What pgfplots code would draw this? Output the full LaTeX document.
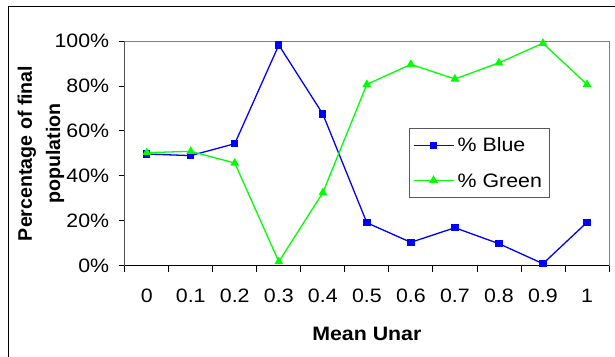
\documentclass[border=0pt]{standalone}
\usepackage{fontspec}
\setmainfont{Liberation Sans}[FakeStretch=1.1]
\newfontfamily\ylabfont{Liberation Sans}
\usepackage{pgfplots}
\pgfplotsset{compat=1.18}
\definecolor{xlblue}{RGB}{0,0,255}
\definecolor{xlgreen}{RGB}{0,255,0}
\begin{document}
\begin{tikzpicture}
\path[use as bounding box] (0pt,0pt) rectangle (615pt,-356pt);
\draw[black, line width=1pt] (8.6pt,-6pt) rectangle (640pt,-380pt);
\begin{axis}[
  at={(124.7pt,-265.7pt)}, anchor=south west,
  width=484.3pt, height=224.7pt, scale only axis,
  xmin=-0.5, xmax=10.5, ymin=0, ymax=100,
  axis line style={draw=gray, line width=0.8pt},
  /pgf/number format/assume math mode=true,
  tick align=outside, tick pos=left,
  xtick={0,1,2,3,4,5,6,7,8,9,10},
  xticklabels={0,0.1,0.2,0.3,0.4,0.5,0.6,0.7,0.8,0.9,1},
  major x tick style={draw=none},
  minor xtick={-0.5,0.5,1.5,2.5,3.5,4.5,5.5,6.5,7.5,8.5,9.5,10.5},
  minor tick length=6pt, major tick length=6pt,
  every tick/.style={black, line width=0.8pt},
  minor x tick style={black, line width=0.8pt},
  ytick={0,20,40,60,80,100},
  yticklabels={0\%,20\%,40\%,60\%,80\%,100\%},
  tick label style={font=\fontsize{19.4}{22}\selectfont},
  xticklabel style={yshift=-14pt},
  yticklabel style={xshift=-6pt},
  xlabel={Mean Unar},
  ylabel={Percentage of final\\population},
  every axis x label/.style={at={(axis description cs:0.5,-0.304)}, anchor=center, font=\bfseries\fontsize{19.4}{22}\selectfont},
  every axis y label/.style={at={(axis description cs:-0.1728,0.5)}, anchor=center, rotate=90, align=center, font=\ylabfont\bfseries\fontsize{19.6}{28.3}\selectfont},
  legend style={at={(axis description cs:0.587,0.613)}, anchor=north west, draw=gray!70!black, line width=0.8pt,
    font=\fontsize{19.4}{22}\selectfont, inner xsep=3.5pt, inner ysep=10pt, row sep=21.5pt,
    nodes={inner ysep=0pt, inner xsep=3.5pt, text height=13.6pt, text depth=0pt}},
  legend cell align=left,
  legend image code/.code={\draw[mark repeat=2,mark phase=2,#1] plot coordinates {(0pt,0pt) (20pt,0pt) (40pt,0pt)};},
]
\draw[black, line width=0.8pt] (rel axis cs:0,1) -- (rel axis cs:0,0) -- (rel axis cs:1,0);
\addplot[color=xlblue, line width=1.3pt, mark=square*, mark size=3pt, mark options={solid}] coordinates {
(0,49.7) (1,49.0) (2,54.3) (3,98.2) (4,67.5) (5,19.1) (6,10.4) (7,16.9) (8,9.8) (9,0.9) (10,19.3)};
\addlegendentry{\% Blue}
\addplot[color=xlgreen, line width=1.3pt, mark=triangle*, mark size=3.8pt, mark options={solid}] coordinates {
(0,50.3) (1,50.9) (2,45.7) (3,1.8) (4,32.5) (5,80.7) (6,89.6) (7,83.1) (8,90.3) (9,99.0) (10,80.7)};
\addlegendentry{\% Green}
\end{axis}
\end{tikzpicture}
\end{document}
